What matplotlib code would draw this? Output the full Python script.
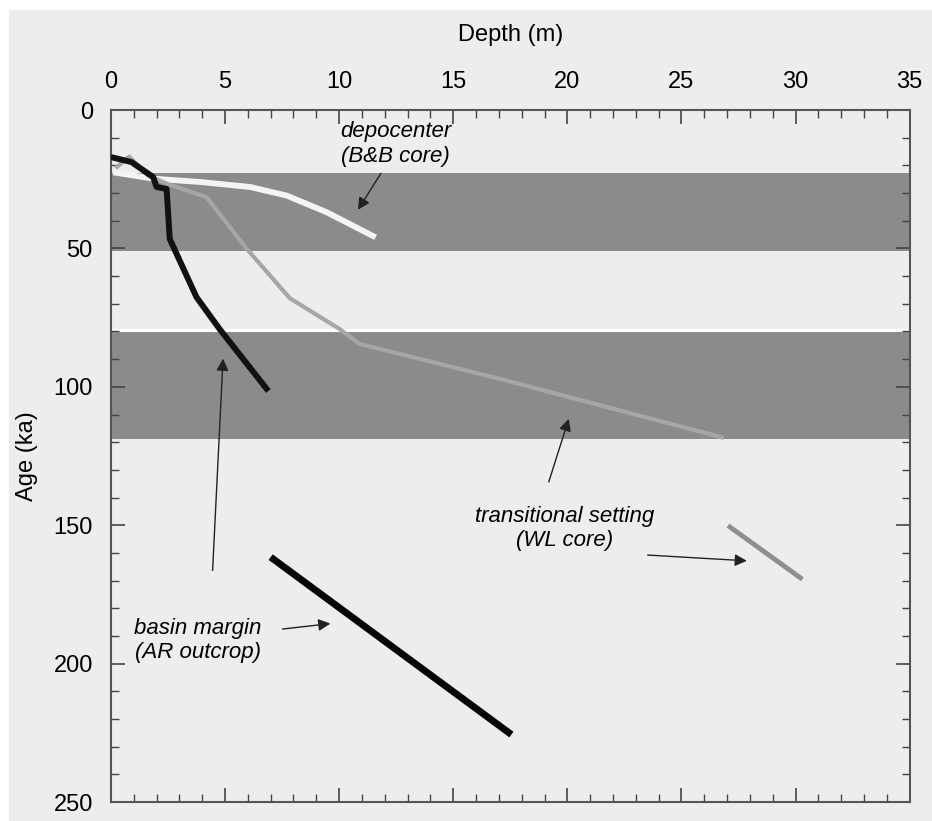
import matplotlib

matplotlib.use('Agg')

import matplotlib.pyplot as plt  # noqa: E402
from matplotlib.patches import Rectangle  # noqa: E402
from matplotlib.ticker import MultipleLocator  # noqa: E402

# shaded age intervals (ka)
bands = [(22.6, 51.0), (80.0, 119.0)]

# basin margin (AR outcrop)
ar_depth = [0.0, 0.9, 1.85, 2.0, 2.44, 2.58, 3.75, 4.77, 6.9]
ar_age = [17.0, 18.8, 24.2, 27.8, 28.5, 46.6, 67.6, 79.2, 101.5]
ar_old_depth = [7.0, 17.55]
ar_old_age = [161.5, 225.6]

# transitional setting (WL core)
wl_depth = [0.2, 0.8, 1.6, 2.44, 4.19, 5.94, 7.84, 10.0, 10.9, 17.0, 26.85]
wl_age = [21.0, 16.8, 23.5, 26.6, 31.5, 50.0, 68.0, 79.0, 84.5, 97.0, 118.4]
wl_old_depth = [27.04, 30.3]
wl_old_age = [150.1, 169.5]

# depocenter (B&B core)
bb_depth = [0.1, 1.85, 3.9, 6.1, 7.7, 9.45, 11.6]
bb_age = [22.5, 24.8, 26.0, 27.8, 30.9, 36.9, 46.0]

paper = '#ededed'
plt.rcParams['font.family'] = ['Liberation Sans', 'DejaVu Sans']

fig = plt.figure(figsize=(9.32, 8.21), dpi=100, facecolor='white')
# scanned page: thin white margin on top and left
fig.patches.append(Rectangle((9 / 932, 0), 1, 1 - 10 / 821, transform=fig.transFigure,
                             facecolor=paper, edgecolor='none', zorder=-10))
ax = fig.add_axes([0.119, 0.023, 0.857, 0.843], facecolor=paper)

for top, bot in bands:
    ax.axhspan(top, bot, color='#8b8b8b', lw=0, zorder=1)
ax.axhline(bands[1][0] - 0.6, color='white', lw=2.2, zorder=1.5)

ax.plot(bb_depth, bb_age, color='#f4f4f4', lw=4.2, solid_capstyle='butt', zorder=2)
ax.plot(wl_depth, wl_age, color='#a6a6a6', lw=3.0, solid_capstyle='butt', zorder=3)
ax.plot(wl_old_depth, wl_old_age, color='#8f8f8f', lw=3.5, solid_capstyle='butt', zorder=3)
ax.plot(ar_depth, ar_age, color='#111111', lw=4.3, solid_capstyle='butt', zorder=4)
ax.plot(ar_old_depth, ar_old_age, color='#050505', lw=5.0, solid_capstyle='butt', zorder=4)

ax.set_xlim(0, 35)
ax.set_ylim(250, 0)
ax.xaxis.set_major_locator(MultipleLocator(5))
ax.xaxis.set_minor_locator(MultipleLocator(1))
ax.yaxis.set_major_locator(MultipleLocator(50))
ax.yaxis.set_minor_locator(MultipleLocator(10))
ax.xaxis.set_label_position('top')
ax.tick_params(axis='x', which='both', top=True, bottom=True,
               labeltop=True, labelbottom=False, pad=12)
ax.tick_params(axis='y', which='both', left=True, right=True, pad=13)
ax.tick_params(which='both', direction='in', color='#444444', labelsize=17)
ax.tick_params(which='major', length=10, width=1.2)
ax.tick_params(which='minor', length=6, width=1.0)
for sp in ax.spines.values():
    sp.set_color('#555555')
    sp.set_linewidth(1.5)

ax.set_xlabel('Depth (m)', fontsize=17, labelpad=22)
ax.set_ylabel('Age (ka)', fontsize=17, labelpad=11)

arrow = dict(arrowstyle='-|>', color='#222222', lw=1.0, mutation_scale=18)
txt = dict(fontsize=16, style='italic', ha='center', va='center',
           linespacing=1.2)

ax.text(12.47, 12.3, 'depocenter\n(B&B core)', **txt)
ax.annotate('', xy=(10.76, 36.9), xytext=(11.9, 22.0), arrowprops=arrow)

ax.text(3.8, 191.5, 'basin margin\n(AR outcrop)', **txt)
ax.annotate('', xy=(9.74, 185.4), xytext=(7.4, 187.6), arrowprops=arrow)
ax.annotate('', xy=(4.92, 88.8), xytext=(4.45, 167.3), arrowprops=arrow)

ax.text(19.9, 151.3, 'transitional setting\n(WL core)', **txt)
ax.annotate('', xy=(20.1, 110.6), xytext=(19.15, 135.3), arrowprops=arrow)
ax.annotate('', xy=(27.99, 162.9), xytext=(23.4, 160.7), arrowprops=arrow)

fig.savefig('out.png', dpi=100, facecolor='white')
plt.close(fig)
